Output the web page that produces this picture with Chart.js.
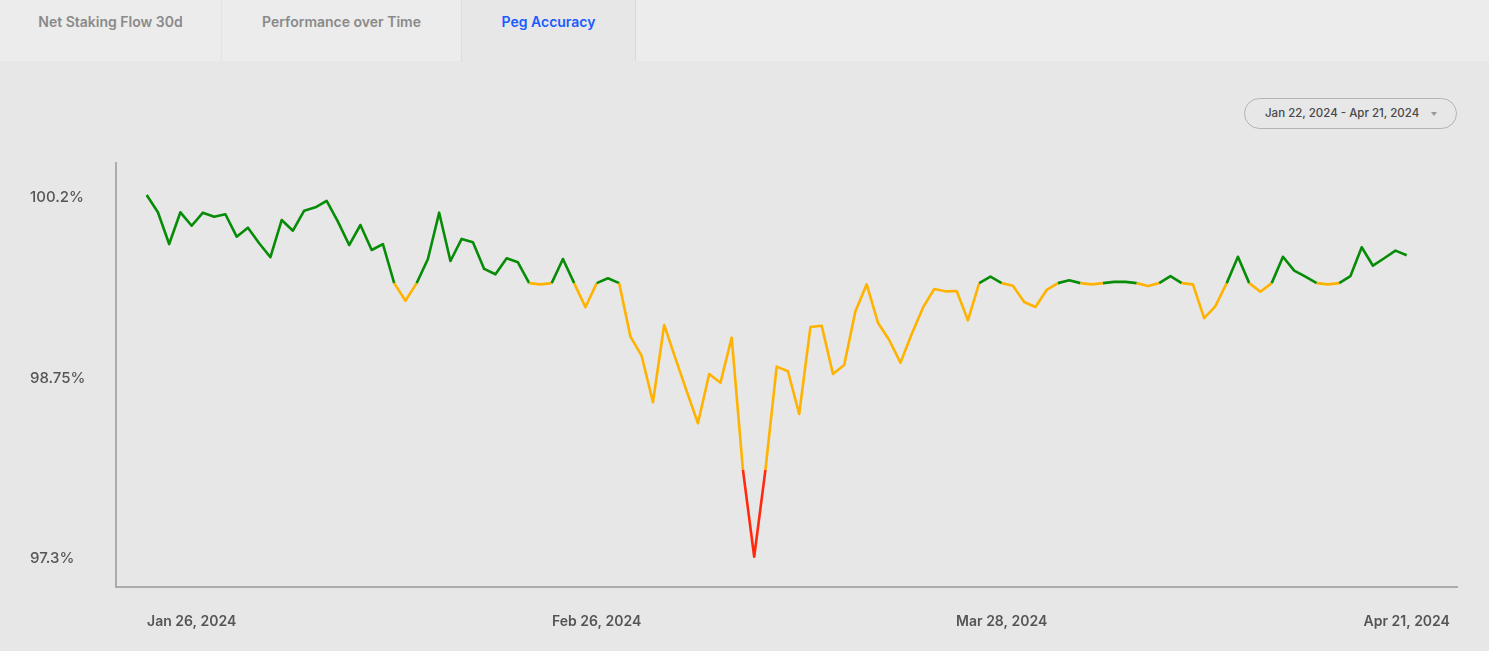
<!DOCTYPE html>
<html>
<head>
<meta charset="utf-8">
<script src="https://cdn.jsdelivr.net/npm/chart.js@4"></script>
<style>
  html, body { margin: 0; padding: 0; }
  body { width: 1489px; height: 651px; background: #e7e7e7; font-family: Inter, "Noto Sans", sans-serif; position: relative; overflow: hidden; }
  .tabs { position: absolute; left: 0; top: 0; width: 1489px; height: 61px; background: #ececec; display: flex; }
  .tab { height: 61px; box-sizing: border-box; display: flex; align-items: center; justify-content: center; font-size: 14px; font-weight: 600; color: #8a8a8a; padding-bottom: 18px; }
  .t1 { width: 222px; border-right: 1px solid #e3e3e3; }
  .t2 { width: 240px; border-right: 1px dotted #cfcfcf; }
  .t3 { width: 174px; background: #e7e7e7; color: #1a5cff; border-right: 1px solid #d8d8d8; }
  .range { position: absolute; left: 1244px; top: 98px; width: 213px; height: 31px; box-sizing: border-box; border: 1px solid #b4b4b4; border-radius: 15.5px; font-size: 11.5px; font-weight: 500; color: #484848; line-height: 29px; padding-left: 20px; }
  .caret { position: absolute; left: 186px; top: 13px; width: 0; height: 0; border-left: 3.5px solid transparent; border-right: 3.5px solid transparent; border-top: 4px solid #9a9a9a; }
  #wrap { position: absolute; left: 0; top: 61px; width: 1489px; height: 590px; }
</style>
</head>
<body>
<div class="tabs">
  <div class="tab t1">Net Staking Flow 30d</div>
  <div class="tab t2">Performance over Time</div>
  <div class="tab t3">Peg Accuracy</div>
</div>
<div class="range">Jan 22, 2024 - Apr 21, 2024<span class="caret"></span></div>
<div id="wrap"><canvas id="c" width="1489" height="590"></canvas></div>
<script>
const pegAccuracy = [
  100.208, 100.069, 99.814, 100.069, 99.961, 100.066, 100.034, 100.053, 99.873, 99.945,
  99.820, 99.708, 100.007, 99.921, 100.082, 100.109, 100.160, 99.994, 99.806, 99.967,
  99.766, 99.814, 99.50, 99.359, 99.50, 99.694, 100.066, 99.678, 99.855, 99.828,
  99.614, 99.571, 99.700, 99.667, 99.50, 99.49, 99.50, 99.694, 99.50, 99.306,
  99.50, 99.539, 99.50, 99.070, 98.915, 98.543, 99.164, 98.896, 98.633, 98.374,
  98.770, 98.700, 99.062, 98.00, 97.302, 98.00, 98.829, 98.792, 98.449, 99.148,
  99.157, 98.770, 98.842, 99.275, 99.49, 99.182, 99.043, 98.861, 99.091, 99.303,
  99.453, 99.434, 99.437, 99.201, 99.50, 99.552, 99.50, 99.479, 99.348, 99.308,
  99.445, 99.50, 99.523, 99.50, 99.49, 99.50, 99.51, 99.51, 99.50, 99.477,
  99.50, 99.557, 99.50, 99.49, 99.218, 99.316, 99.50, 99.712, 99.50, 99.431,
  99.50, 99.712, 99.600, 99.552, 99.50, 99.49, 99.50, 99.557, 99.788, 99.640,
  99.700, 99.761, 99.724
];
const categories = pegAccuracy.map((_, i) => i); // observation index
const xTickIndex = [4, 40, 76, 112];
const xTickLabels = ['Jan 26, 2024', 'Feb 26, 2024', 'Mar 28, 2024', 'Apr 21, 2024'];
const yTickValues = [97.3, 98.75, 100.2];
const yTickLabels = ['97.3%', '98.75%', '100.2%'];
const greenMin = 99.5;
const redBelow = 98.0;

const GREEN = '#078c07', ORANGE = '#ffb300', RED = '#ff2a0d';

function segColor(ctx) {
  const m = Math.min(ctx.p0.parsed.y, ctx.p1.parsed.y);
  if (m < redBelow) return RED;
  if (m < greenMin) return ORANGE;
  return GREEN;
}

new Chart(document.getElementById('c'), {
  type: 'line',
  data: {
    datasets: [{
      data: categories.map((c, i) => ({ x: c, y: pegAccuracy[i] })),
      borderWidth: 2.6,
      borderColor: GREEN,
      borderJoinStyle: 'round',
      pointRadius: 0,
      pointHoverRadius: 0,
      tension: 0,
      fill: false,
      segment: { borderColor: segColor }
    }]
  },
  options: {
    responsive: false,
    animation: false,
    events: [],
    layout: { padding: { left: 30, top: 102, right: 32, bottom: 0 } },
    plugins: { legend: { display: false }, tooltip: { enabled: false } },
    scales: {
      x: {
        type: 'linear',
        min: -2.77,
        max: 116.47,
        grid: { display: false, drawTicks: false },
        border: { display: true, color: '#acacac', width: 2 },
        afterBuildTicks: s => { s.ticks = xTickIndex.map(v => ({ value: v })); },
        afterFit: s => { s.height = 64; },
        ticks: {
          autoSkip: false, maxRotation: 0, padding: 26,
          color: '#555', font: { family: 'Inter', size: 14, weight: '600' },
          callback: v => xTickLabels[xTickIndex.indexOf(v)]
        }
      },
      y: {
        type: 'linear',
        min: 97.059,
        max: 100.465,
        grid: { display: false, drawTicks: false },
        border: { display: true, color: '#acacac', width: 2 },
        afterBuildTicks: s => { s.ticks = yTickValues.map(v => ({ value: v })); },
        afterFit: s => { s.width = 85.5; },
        ticks: {
          crossAlign: 'far', padding: 0,
          color: '#555', font: { family: 'Inter', size: 15, weight: '500', lineHeight: '3px' },
          callback: v => ['', yTickLabels[yTickValues.indexOf(v)]]
        }
      }
    }
  }
});
</script>
</body>
</html>
